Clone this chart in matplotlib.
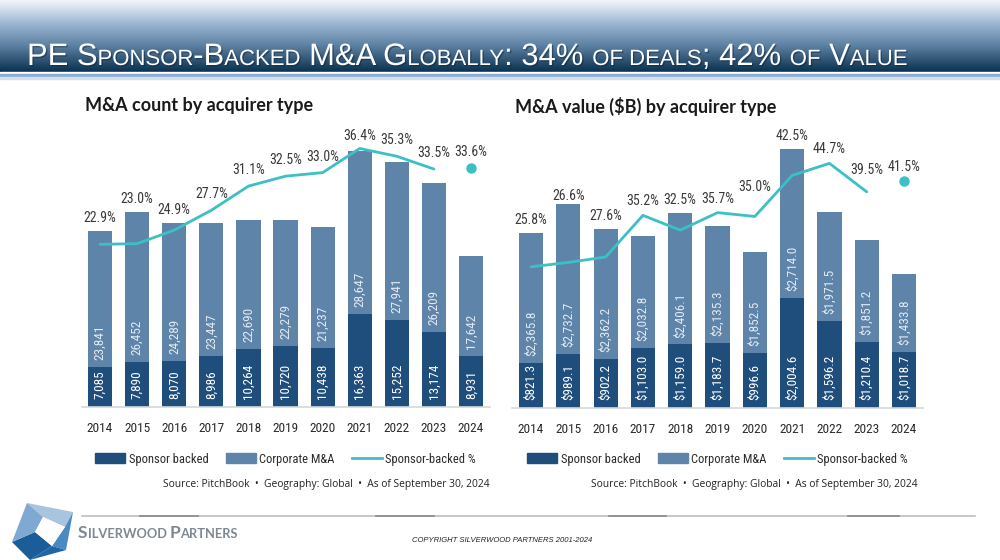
import matplotlib
matplotlib.use('Agg')
import matplotlib.pyplot as plt
import numpy as np
from matplotlib import font_manager
from matplotlib.patches import Polygon, Rectangle, Patch
from matplotlib.lines import Line2D
import matplotlib.patheffects as pe

# ---------------- data ----------------
years = ['2014', '2015', '2016', '2017', '2018', '2019', '2020', '2021', '2022', '2023', '2024']
count_sponsor = [7085, 7890, 8070, 8986, 10264, 10720, 10438, 16363, 15252, 13174, 8931]
count_corporate = [23841, 26452, 24289, 23447, 22690, 22279, 21237, 28647, 27941, 26209, 17642]
count_pct = [22.9, 23.0, 24.9, 27.7, 31.1, 32.5, 33.0, 36.4, 35.3, 33.5, 33.6]
value_sponsor = [821.3, 989.1, 902.2, 1103.0, 1159.0, 1183.7, 996.6, 2004.6, 1596.2, 1210.4, 1018.7]
value_corporate = [2365.8, 2732.7, 2362.2, 2032.8, 2406.1, 2135.3, 1852.5, 2714.0, 1971.5, 1851.2, 1433.8]
value_pct = [25.8, 26.6, 27.6, 35.2, 32.5, 35.7, 35.0, 42.5, 44.7, 39.5, 41.5]
legend_labels = ['Sponsor backed', 'Corporate M&A', 'Sponsor-backed %']
title_parts = [('PE S', True), ('PONSOR', False), ('-B', True), ('ACKED', False), (' M&A G', True),
               ('LOBALLY', False), (': 34% ', True), ('OF DEALS', False), ('; 42% ', True),
               ('OF', False), (' V', True), ('ALUE', False)]
source_text = 'Source: PitchBook  \u2022  Geography: Global  \u2022  As of September 30, 2024'

# small manual nudges (in pixels, + = up) for percentage labels, layout only
count_label_nudge = [0, 0, 0, 0, 0, 0, 0, -4, 0, 0, 0]
value_label_nudge = [0, -5, 0, 0, 0, 0, 15, 0, 0, 8, 0]

# ---------------- fonts ----------------
available = {f.name for f in font_manager.fontManager.ttflist}
def pick(cands):
    for c in cands:
        if c in available:
            return c
    return 'DejaVu Sans'
NARROW = pick(['Roboto Condensed', 'Liberation Sans Narrow', 'DejaVu Sans Condensed', 'Roboto'])
TITLE_FONT = pick(['Liberation Sans', 'DejaVu Sans'])
HUMAN = pick(['Open Sans', 'Lato', 'Noto Sans'])
HUMAN_B = pick(['Lato', 'Open Sans', 'Noto Sans'])

DARK = '#1f4d7c'
CORP = '#5e84a9'
TEAL = '#3cc0c6'
W, H = 1000, 560
PT = 0.72  # points per pixel at dpi 100

fig = plt.figure(figsize=(10, 5.6), dpi=100)
fig.patch.set_facecolor('white')

def fx(x):
    return x / W
def fy(y):
    return 1 - y / H

# ---------------- header ----------------
hax = fig.add_axes([0, fy(72), 1, 72 / H])
stops_y = [0, 8, 22, 45, 72]
stops_c = [(0.95, 0.96, 0.98), (0.84, 0.88, 0.93), (0.63, 0.73, 0.84), (0.37, 0.51, 0.64), (0.04, 0.19, 0.31)]
ys = np.linspace(0, 72, 144)
grad = np.zeros((144, 2, 3))
for k in range(3):
    grad[:, :, k] = np.interp(ys, stops_y, [c[k] for c in stops_c])[:, None]
hax.imshow(grad, aspect='auto', extent=[0, 1, 1, 0], interpolation='bilinear')
hax.set_xlim(0, 1); hax.set_ylim(1, 0)
hax.axis('off')
fig.patches.append(Rectangle((0, fy(74)), 1, 2 / H, transform=fig.transFigure, color='white', zorder=1))
fig.patches.append(Rectangle((0, fy(77)), 1, 3 / H, transform=fig.transFigure, color='#8cadd3', zorder=1))
fig.patches.append(Rectangle((0, fy(78.5)), 1, 1.5 / H, transform=fig.transFigure, color='#d3e0ee', zorder=1))

renderer = fig.canvas.get_renderer()

big0, small0 = 21.0, 15.0
meas = 0
for txt, big in title_parts:
    t = fig.text(0, 0, txt, fontsize=big0 if big else small0, family=TITLE_FONT)
    meas += t.get_window_extent(renderer).width
    t.remove()
scale = min(1.12, max(0.9, 881.0 / meas))
x = 27
for txt, big in title_parts:
    t = fig.text(fx(x), fy(65), txt, fontsize=(big0 if big else small0) * scale, family=TITLE_FONT,
                 color='white', va='baseline', ha='left', zorder=5,
                 path_effects=[pe.withSimplePatchShadow(offset=(1, -1), alpha=0.45, shadow_rgbFace='#0a2236')])
    x += t.get_window_extent(renderer).width

# ---------------- charts ----------------
def make_chart(left_px, spacing, base_px, top_px, sponsor, corporate, pct, ymax, pmax, fmt, title,
               title_x, line_off_px, nudges):
    width_px = 11 * spacing
    ax = fig.add_axes([fx(left_px), fy(base_px), width_px / W, (base_px - top_px) / H])
    xs = np.arange(len(years))
    ax.bar(xs, sponsor, width=0.65, color=DARK, zorder=2)
    ax.bar(xs, corporate, width=0.65, bottom=sponsor, color=CORP, zorder=2)
    ax.set_xlim(-0.5, len(years) - 0.5)
    ax.set_ylim(0, ymax)
    for s in ['top', 'left', 'right']:
        ax.spines[s].set_visible(False)
    ax.spines['bottom'].set_color('#d4d8dc')
    ax.spines['bottom'].set_linewidth(1.2)
    ax.set_yticks([])
    ax.set_xticks(xs)
    ax.set_xticklabels(years, fontsize=9.6, family=NARROW, color='#2b2b2b')
    ax.tick_params(axis='x', length=0, pad=11)
    for i in xs:
        ax.annotate(fmt(sponsor[i]), (i, 0), xytext=(0, 6), textcoords='offset points',
                    rotation=90, ha='center', va='bottom', fontsize=9.5, family=NARROW,
                    color='white', zorder=4)
        ax.annotate(fmt(corporate[i]), (i, sponsor[i]), xytext=(0, 5), textcoords='offset points',
                    rotation=90, ha='center', va='bottom', fontsize=9.5, family=NARROW,
                    color='#e3eaf2', zorder=4)
    ax2 = ax.twinx()
    ax2.set_ylim(0, pmax)
    ax2.axis('off')
    n = len(years)
    ax2.plot(xs[:n - 1], pct[:n - 1], color=TEAL, lw=2.0, zorder=5, solid_capstyle='round')
    ax2.plot([xs[n - 1]], [pct[n - 1]], 'o', color=TEAL, ms=6.5, zorder=5)
    ratio = pmax / ymax
    for i in xs:
        bar_top = (sponsor[i] + corporate[i]) * ratio
        if pct[i] >= bar_top:
            top, off = pct[i], line_off_px
        else:
            top, off = bar_top, 13
        ax2.annotate(f'{pct[i]:.1f}%', (i, top), xytext=(0, (off + nudges[i]) * PT), textcoords='offset points',
                     ha='center', va='center', fontsize=10, family=NARROW, color='#3a3a3a')
    handles = [Patch(color=DARK), Patch(color=CORP), Line2D([], [], color=TEAL, lw=2.0)]
    ax.legend(handles, legend_labels, loc='center', bbox_to_anchor=(0.5, (base_px - 459) / (base_px - top_px)),
              ncol=3, frameon=False, handlelength=2.4, handleheight=0.85, handletextpad=0.25, columnspacing=1.4,
              prop={'family': NARROW, 'size': 9}, labelcolor='#2b2b2b')
    fig.text(fx(title_x), fy(106), title, fontsize=13, family=HUMAN_B, weight='bold',
             color='#1a1a1a', ha='left', va='center')
    return ax

make_chart(81.5, 37.1, 407, 130, count_sponsor, count_corporate, count_pct, 48770, 39.0,
           lambda v: f'{v:,}', 'M&A count by acquirer type', 85, 16, count_label_nudge)
make_chart(512.4, 37.3, 408, 130, value_sponsor, value_corporate, value_pct, 5073, 50.8,
           lambda v: f'${v:,.1f}', 'M&A value ($B) by acquirer type', 515, 14, value_label_nudge)

fig.text(fx(490), fy(484), source_text, fontsize=7.4, family=HUMAN, color='#222222', ha='right', va='center')
fig.text(fx(918), fy(484), source_text, fontsize=7.4, family=HUMAN, color='#222222', ha='right', va='center')

# ---------------- footer ----------------
fig.add_artist(Line2D([fx(82), fx(975)], [fy(516), fy(516)], color='#bdbdbd', lw=1.2))
for a, b in [(140, 198), (376, 434), (609, 666), (848, 899)]:
    fig.add_artist(Line2D([fx(a), fx(b)], [fy(516), fy(516)], color='#8a8a8a', lw=1.2))

def poly(pts, color):
    fig.patches.append(Polygon([(fx(px), fy(py)) for px, py in pts], closed=True,
                               transform=fig.transFigure, facecolor=color, edgecolor='none'))
o = [(27, 503), (73, 512), (66, 550), (30, 560), (12, 542)]
i_ = [(43, 517), (65, 527), (52, 546), (35, 532)]
poly([o[0], o[1], i_[1], i_[0]], '#a9c4de')
poly([o[1], o[2], i_[2], i_[1]], '#4a89c2')
poly([o[2], o[3], i_[2]], '#1e66a5')
poly([o[3], o[4], i_[3], i_[2]], '#1b5d98')
poly([o[4], o[0], i_[0], i_[3]], '#7fa9d2')
poly(i_, 'white')

x = 78
for txt, big in [('S', True), ('ILVERWOOD ', False), ('P', True), ('ARTNERS', False)]:
    t = fig.text(fx(x), fy(538), txt, fontsize=12.5 if big else 9.3, family=HUMAN_B, weight='bold',
                 color='#7e8892', va='baseline', ha='left')
    x += t.get_window_extent(renderer).width

fig.text(fx(502), fy(541), 'COPYRIGHT SILVERWOOD PARTNERS 2001-2024', fontsize=5.5,
         family='Liberation Sans', style='italic', color='#222222', ha='center', va='center')

fig.savefig('out.png', dpi=100, facecolor='white')
